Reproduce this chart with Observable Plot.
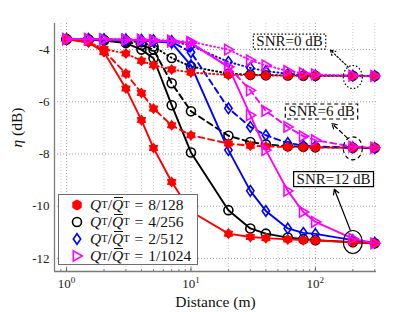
<!DOCTYPE html>
<html><head><meta charset="utf-8">
<script src="https://cdn.jsdelivr.net/npm/d3@7"></script>
<script src="https://cdn.jsdelivr.net/npm/@observablehq/plot@0.6"></script>
<style>
body{margin:0;background:#fff;}
#wrap{position:relative;width:415px;height:312px;font-family:"Liberation Serif",serif;}
#wrap svg text{font-family:"Liberation Serif",serif;}
#legend{position:absolute;left:58px;top:194px;width:140px;height:71px;background:#fff;border:1px solid #6e6e6e;box-sizing:border-box;}
.row{position:absolute;left:0;height:17px;display:flex;align-items:center;font-size:15.5px;white-space:nowrap;color:#111;}
.row svg{margin-left:11px;margin-right:6px;}
.q{font-style:italic;}
.bar{font-style:italic;display:inline-block;position:relative;}
.bar::before{content:"";position:absolute;left:2px;right:0px;top:1px;border-top:1px solid #111;}
sub{font-size:10.5px;vertical-align:-3px;font-style:normal;}
.eq{margin:0 5px;}
</style></head><body><div id="wrap"></div>
<script>
// ---- data ----
const distance = [1, 1.5, 2, 3, 4, 5, 7, 10, 20, 30, 40, 60, 80, 100, 200, 300];
const schemes = ["8/128", "4/256", "2/512", "1/1024"];
const snrLevels = ["0 dB", "6 dB", "12 dB"];

const red_snr0   = [-3.6,-3.7,-3.98,-4.15,-4.43,-4.6,-4.76,-4.88,-4.97,-4.98,-4.99,-5.0,-5.0,-5.0,-5.01,-5.01];
const red_snr6   = [-3.6,-3.72,-4.05,-4.92,-5.66,-6.26,-6.9,-7.28,-7.6,-7.68,-7.71,-7.73,-7.74,-7.75,-7.76,-7.76];
const red_snr12  = [-3.6,-3.73,-4.1,-5.49,-6.7,-7.77,-9.07,-10.2,-11.05,-11.18,-11.22,-11.27,-11.3,-11.31,-11.38,-11.42];

const black_snr0  = [-3.6,-3.61,-3.63,-3.66,-3.72,-3.88,-4.32,-4.65,-4.92,-4.96,-4.98,-4.99,-5.0,-5.0,-5.0,-5.01];
const black_snr6  = [-3.6,-3.62,-3.64,-3.7,-3.82,-4.0,-5.29,-6.36,-7.3,-7.54,-7.63,-7.7,-7.72,-7.74,-7.76,-7.77];
const black_snr12 = [-3.6,-3.62,-3.65,-3.75,-4.0,-4.33,-6.13,-7.94,-10.15,-10.85,-11.05,-11.2,-11.26,-11.3,-11.38,-11.42];

const blue_snr0  = [-3.6,-3.6,-3.61,-3.62,-3.63,-3.64,-3.67,-3.85,-4.47,-4.7,-4.82,-4.93,-4.97,-4.99,-5.0,-5.01];
const blue_snr6  = [-3.6,-3.6,-3.62,-3.63,-3.64,-3.66,-3.7,-4.1,-6.25,-6.96,-7.28,-7.58,-7.67,-7.71,-7.75,-7.77];
const blue_snr12 = [-3.6,-3.6,-3.62,-3.63,-3.65,-3.68,-3.74,-4.6,-7.85,-9.41,-10.18,-10.85,-11.02,-11.06,-11.3,-11.4];

const mag_snr0  = [-3.6,-3.6,-3.61,-3.62,-3.63,-3.64,-3.66,-3.7,-4.0,-4.41,-4.6,-4.82,-4.9,-4.95,-5.0,-5.01];
const mag_snr6  = [-3.6,-3.6,-3.61,-3.62,-3.63,-3.65,-3.68,-3.74,-4.66,-5.56,-6.35,-6.96,-7.32,-7.47,-7.72,-7.76];
const mag_snr12 = [-3.6,-3.6,-3.61,-3.62,-3.63,-3.65,-3.68,-3.75,-4.66,-6.51,-7.85,-9.41,-10.22,-10.6,-11.24,-11.42];

const xMajor = [1, 10, 100];
const xMinor = [0.9, 2, 3, 4, 5, 6, 7, 8, 9, 20, 30, 40, 50, 60, 70, 80, 90, 200, 300];
const yTicks = [-12, -10, -8, -6, -4];

const annotLabels = ["SNR=0 dB", "SNR=6 dB", "SNR=12 dB"];
const annotX = [62, 112, 140];
const annotY = [-3.68, -6.36, -8.95];
const ringX = [200, 200, 200];
const ringY = [-5.05, -7.78, -11.37];
const arrowFromX = [184, 181, 191];
const arrowFromY = [-4.67, -7.39, -10.92];
const arrowToX = [132, 136, 142];
const arrowToY = [-4.02, -6.83, -9.35];

const FONT = "'Liberation Serif', serif";

// ---- symbols ----
function rOf(size){ return Math.sqrt(size/Math.PI); }
const triRight = {draw(ctx,size){const r=rOf(size); ctx.moveTo(r*1.05,0); ctx.lineTo(-r*0.75,-r*1.05); ctx.lineTo(-r*0.75,r*1.05); ctx.closePath();}};
const diamondTall = {draw(ctx,size){const r=rOf(size); ctx.moveTo(0,-r*1.15); ctx.lineTo(r*0.8,0); ctx.lineTo(0,r*1.15); ctx.lineTo(-r*0.8,0); ctx.closePath();}};
const hexStar = {draw(ctx,size){const r=rOf(size); const n=6; for(let i=0;i<2*n;i++){const a=Math.PI*i/n - Math.PI/2; const rr = i%2===0 ? r*1.1 : r*0.75; const px=rr*Math.cos(a), py=rr*Math.sin(a); if(i===0) ctx.moveTo(px,py); else ctx.lineTo(px,py);} ctx.closePath();}};
const ellipseSym = {draw(ctx){const rx=9.5, ry=11.5, k=0.5523; ctx.moveTo(rx,0); ctx.bezierCurveTo(rx,ry*k,rx*k,ry,0,ry); ctx.bezierCurveTo(-rx*k,ry,-rx,ry*k,-rx,0); ctx.bezierCurveTo(-rx,-ry*k,-rx*k,-ry,0,-ry); ctx.bezierCurveTo(rx*k,-ry,rx,-ry*k,rx,0); ctx.closePath();}};

const dashFor = {"0 dB": "1,3", "6 dB": "6,4", "12 dB": null};

const groups = [
  {scheme: schemes[1], color: "#000000", symbol: "circle", fill: "none", r: 4.5, vals: [black_snr0, black_snr6, black_snr12]},
  {scheme: schemes[2], color: "#0000ff", symbol: diamondTall, fill: "none", r: 4.6, vals: [blue_snr0, blue_snr6, blue_snr12]},
  {scheme: schemes[0], color: "#ff0000", symbol: hexStar, fill: "#ff0000", r: 3.9, vals: [red_snr0, red_snr6, red_snr12]},
  {scheme: schemes[3], color: "#ff00ff", symbol: triRight, fill: "none", r: 5, vals: [mag_snr0, mag_snr6, mag_snr12]}
];

const marks = [];
// grid
marks.push(Plot.ruleX(xMinor, {stroke: "#c4c4c4", strokeDasharray: "1,2", strokeWidth: 0.8}));
marks.push(Plot.ruleX(xMajor, {stroke: "#9a9a9a", strokeDasharray: "1,2", strokeWidth: 0.9}));
marks.push(Plot.ruleY(yTicks, {stroke: "#9a9a9a", strokeDasharray: "1,2", strokeWidth: 0.9}));

// series
for (const g of groups) {
  snrLevels.forEach((snr, k) => {
    const rows = distance.map((d, i) => ({distance: d, eta: g.vals[k][i], scheme: g.scheme, snr}));
    const lineOpts = {x: "distance", y: "eta", stroke: g.color, strokeWidth: 1.9, strokeLinecap: "round"};
    if (dashFor[snr]) lineOpts.strokeDasharray = dashFor[snr];
    marks.push(Plot.line(rows, lineOpts));
    marks.push(Plot.dot(rows, {x: "distance", y: "eta", symbol: g.symbol, r: g.r, stroke: g.color, fill: g.fill, strokeWidth: 1.6}));
  });
}

// annotations
const ann = annotLabels.map((label, i) => ({label, x: annotX[i], y: annotY[i], rx: ringX[i], ry: ringY[i],
  x1: arrowFromX[i], y1: arrowFromY[i], x2: arrowToX[i], y2: arrowToY[i], dash: ["1.5,2","4,3","none"][i]}));
ann.forEach(a => {
  marks.push(Plot.dot([a], {x: "rx", y: "ry", symbol: ellipseSym, stroke: "#000", fill: "none", strokeWidth: 1.2, strokeDasharray: a.dash}));
  marks.push(Plot.arrow([a], {x1: "x1", y1: "y1", x2: "x2", y2: "y2", stroke: "#000", strokeWidth: 1.2, headLength: 7, strokeDasharray: a.dash}));
  marks.push(Plot.text([a], {x: "x", y: "y", text: "label", fontSize: 15, fill: "#111", fontFamily: FONT}));
});

// axes lines & ticks
marks.push(Plot.ruleX([0.8], {stroke: "#7a7a7a", strokeWidth: 1.3}));
marks.push(Plot.ruleY([-12.5], {stroke: "#7a7a7a", strokeWidth: 1.3}));
marks.push(Plot.ruleX(xMajor, {y1: -12.5, y2: -12.36, stroke: "#555"}));
marks.push(Plot.ruleX(xMinor, {y1: -12.5, y2: -12.43, stroke: "#777"}));
marks.push(Plot.axisX({ticks: xMajor, tickFormat: d => "10^" + Math.round(Math.log10(d)), tickSize: 0, tickPadding: 7, label: null, fontSize: 13, fill: "#222", fontFamily: FONT}));
marks.push(Plot.axisY({ticks: yTicks, tickFormat: d => String(d), tickSize: 0, tickPadding: 5, label: null, fontSize: 13, fill: "#222", fontFamily: FONT}));
marks.push(Plot.text(["Distance (m)"], {frameAnchor: "bottom", dy: 31, lineAnchor: "middle", text: d => d, fontSize: 15.5, fill: "#111", fontFamily: FONT}));
marks.push(Plot.text(["η (dB)"], {frameAnchor: "left", dx: -37, rotate: -90, lineAnchor: "middle", text: d => d, fontSize: 15.5, fill: "#111", fontFamily: FONT}));

const chart = Plot.plot({
  width: 415, height: 312,
  marginLeft: 54, marginRight: 39, marginTop: 23, marginBottom: 41,
  x: {type: "log", domain: [0.8, 310]},
  y: {domain: [-12.5, -3]},
  style: {fontFamily: FONT, background: "white", overflow: "visible"},
  marks
});
const wrap = document.getElementById("wrap");
wrap.appendChild(chart);

// post-process text: superscripts, italic eta, annotation boxes
const svgNS = "http://www.w3.org/2000/svg";
chart.querySelectorAll("text").forEach(t => {
  const s = t.textContent;
  if (/^10\^\d$/.test(s)) {
    const p = s.split("^");
    t.textContent = p[0];
    const sp = document.createElementNS(svgNS, "tspan");
    sp.setAttribute("dy", "-5"); sp.setAttribute("font-size", "9");
    sp.textContent = p[1];
    t.appendChild(sp);
  } else if (s === "η (dB)") {
    t.textContent = "";
    const a = document.createElementNS(svgNS, "tspan"); a.setAttribute("font-style", "italic"); a.textContent = "η";
    const b = document.createElementNS(svgNS, "tspan"); b.textContent = " (dB)";
    t.appendChild(a); t.appendChild(b);
  } else if (annotLabels.includes(s)) {
    const i = annotLabels.indexOf(s);
    const bb = t.getBBox();
    const r = document.createElementNS(svgNS, "rect");
    r.setAttribute("x", bb.x - 3); r.setAttribute("y", bb.y + 1);
    r.setAttribute("width", bb.width + 6); r.setAttribute("height", bb.height - 1);
    r.setAttribute("fill", "white"); r.setAttribute("stroke", "#000"); r.setAttribute("stroke-width", "1.2");
    if (ann[i].dash !== "none") r.setAttribute("stroke-dasharray", ann[i].dash);
    if (t.getAttribute("transform")) r.setAttribute("transform", t.getAttribute("transform"));
    t.parentNode.insertBefore(r, t);
  }
});

// legend
const legendSymbols = {
  "8/128": '<path d="M0,-4.6L2.1,-3.6L4,-2.3L4,0L4,2.3L2.1,3.6L0,4.6L-2.1,3.6L-4,2.3L-4,0L-4,-2.3L-2.1,-3.6Z" fill="#ff0000" stroke="#ff0000" stroke-width="1.4"/>',
  "4/256": '<circle r="4.5" fill="none" stroke="#000" stroke-width="1.6"/>',
  "2/512": '<path d="M0,-5.3L3.7,0L0,5.3L-3.7,0Z" fill="none" stroke="#0000ff" stroke-width="1.6"/>',
  "1/1024": '<path d="M5.2,0L-3.7,-5.2L-3.7,5.2Z" fill="none" stroke="#ff00ff" stroke-width="1.6"/>'
};
const legend = document.createElement("div");
legend.id = "legend";
schemes.forEach((s, i) => {
  const row = document.createElement("div");
  row.className = "row";
  row.style.top = (1 + i * 17.2) + "px";
  row.innerHTML = '<svg width="14" height="14" viewBox="-7 -7 14 14">' + legendSymbols[s] + '</svg>' +
    '<span class="q">Q</span><sub>T</sub>/<span class="bar">Q</span><sub>T</sub><span class="eq">=</span>' + s;
  legend.appendChild(row);
});
wrap.appendChild(legend);
</script>
</body></html>
